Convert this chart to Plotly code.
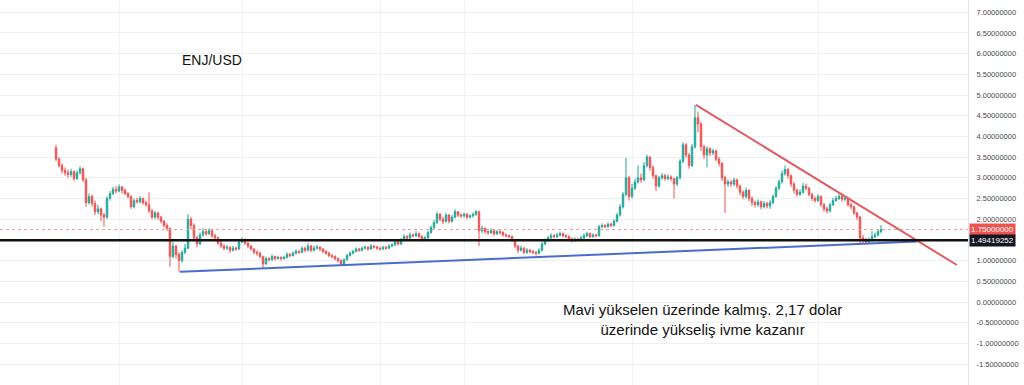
import plotly.graph_objects as go

# ---------------- data ----------------
first_open = 3.72
close = [
    3.45, 3.30, 3.18, 3.12, 3.08, 3.15, 2.98, 3.12, 3.22, 2.95,
    2.40, 2.55, 2.38, 2.18, 2.25, 2.10, 2.05, 2.50, 2.62, 2.72,
    2.68, 2.78, 2.70, 2.62, 2.55, 2.30, 2.45, 2.42, 2.50, 2.40,
    2.35, 2.20, 2.05, 2.15, 2.05, 1.95, 1.85, 1.78, 1.10, 1.35,
    1.15, 1.00, 1.20, 1.30, 2.00, 1.85, 1.55, 1.40, 1.62, 1.70,
    1.65, 1.72, 1.60, 1.55, 1.42, 1.35, 1.30, 1.32, 1.25, 1.30,
    1.28, 1.45, 1.50, 1.42, 1.35, 1.28, 1.20, 1.18, 1.10, 0.92,
    1.05, 1.02, 1.10, 1.05, 1.08, 1.05, 1.08, 1.15, 1.12, 1.18,
    1.22, 1.20, 1.30, 1.25, 1.35, 1.25, 1.30, 1.32, 1.28, 1.22,
    1.18, 1.12, 1.10, 1.05, 1.00, 0.92, 1.02, 1.12, 1.18, 1.22,
    1.28, 1.25, 1.30, 1.32, 1.28, 1.35, 1.33, 1.30, 1.28, 1.32,
    1.30, 1.35, 1.38, 1.45, 1.40, 1.50, 1.58, 1.55, 1.62, 1.60,
    1.65, 1.58, 1.50, 1.55, 1.68, 1.80, 1.92, 2.12, 2.00, 1.95,
    2.10, 1.95, 2.05, 2.18, 2.10, 2.08, 2.12, 2.05, 2.08, 2.12,
    2.18, 1.72, 1.78, 1.70, 1.68, 1.72, 1.65, 1.70, 1.68, 1.62,
    1.60, 1.58, 1.50, 1.35, 1.25, 1.30, 1.20, 1.25, 1.22, 1.20,
    1.18, 1.25, 1.40, 1.48, 1.55, 1.60, 1.58, 1.62, 1.65, 1.60,
    1.58, 1.52, 1.48, 1.52, 1.50, 1.55, 1.60, 1.65, 1.58, 1.62,
    1.60, 1.82, 1.85, 1.82, 1.88, 1.85, 1.95, 2.10, 2.30, 2.60,
    3.00, 2.55, 2.75, 2.90, 3.00, 2.95, 3.30, 3.50, 3.25, 3.05,
    2.80, 3.00, 3.05, 2.98, 3.02, 2.98, 2.85, 3.00, 3.40, 3.80,
    3.55, 3.30, 3.75, 4.45, 4.30, 3.75, 3.55, 3.70, 3.60, 3.65,
    3.45, 3.35, 3.00, 2.85, 2.90, 2.85, 2.95, 2.80, 2.65, 2.55,
    2.70, 2.50, 2.40, 2.35, 2.42, 2.30, 2.38, 2.32, 2.40, 2.55,
    2.75, 2.90, 3.10, 3.20, 3.05, 2.85, 2.70, 2.60, 2.65, 2.80,
    2.75, 2.60, 2.50, 2.45, 2.55, 2.35, 2.25, 2.20, 2.35, 2.45,
    2.50, 2.55, 2.48, 2.50, 2.35, 2.30, 2.15, 2.05, 1.55, 1.50,
    1.45, 1.50, 1.58, 1.62, 1.70, 1.75,
]
high = [
    3.80, 3.50, 3.35, 3.25, 3.20, 3.22, 3.18, 3.18, 3.28, 3.25,
    3.00, 2.62, 2.60, 2.45, 2.35, 2.28, 2.15, 2.55, 2.68, 2.78,
    2.80, 2.84, 2.80, 2.74, 2.66, 2.58, 2.50, 2.52, 2.56, 2.52,
    2.45, 2.65, 2.25, 2.20, 2.18, 2.08, 1.98, 1.90, 1.80, 1.45,
    1.38, 1.20, 1.25, 1.40, 2.12, 2.05, 1.90, 1.60, 1.68, 1.78,
    1.75, 1.78, 1.74, 1.65, 1.58, 1.48, 1.40, 1.38, 1.35, 1.36,
    1.34, 1.50, 1.56, 1.54, 1.45, 1.38, 1.30, 1.25, 1.22, 1.12,
    1.10, 1.08, 1.15, 1.12, 1.12, 1.10, 1.12, 1.20, 1.18, 1.22,
    1.28, 1.26, 1.34, 1.33, 1.42, 1.38, 1.36, 1.38, 1.35, 1.30,
    1.26, 1.22, 1.16, 1.13, 1.08, 1.03, 1.06, 1.16, 1.22, 1.26,
    1.32, 1.31, 1.34, 1.37, 1.35, 1.40, 1.38, 1.36, 1.33, 1.36,
    1.35, 1.40, 1.42, 1.50, 1.48, 1.55, 1.64, 1.62, 1.68, 1.66,
    1.72, 1.68, 1.62, 1.60, 1.72, 1.85, 1.98, 2.18, 2.15, 2.05,
    2.15, 2.12, 2.10, 2.24, 2.20, 2.14, 2.16, 2.15, 2.12, 2.16,
    2.22, 2.20, 1.84, 1.80, 1.74, 1.78, 1.75, 1.74, 1.73, 1.71,
    1.66, 1.63, 1.61, 1.52, 1.38, 1.36, 1.33, 1.30, 1.28, 1.25,
    1.23, 1.30, 1.45, 1.53, 1.60, 1.66, 1.64, 1.67, 1.70, 1.68,
    1.64, 1.61, 1.56, 1.56, 1.55, 1.60, 1.66, 1.70, 1.68, 1.66,
    1.65, 1.86, 1.90, 1.88, 1.92, 1.91, 2.00, 2.15, 2.36, 2.66,
    3.48, 3.05, 2.85, 2.98, 3.30, 3.10, 3.38, 3.56, 3.52, 3.30,
    3.08, 3.05, 3.12, 3.10, 3.08, 3.06, 3.00, 3.05, 3.45, 3.86,
    3.84, 3.60, 3.82, 4.76, 4.60, 4.35, 3.80, 3.76, 3.74, 3.70,
    3.68, 3.50, 3.38, 3.05, 2.96, 2.95, 3.00, 2.98, 2.84, 2.70,
    2.76, 2.72, 2.55, 2.45, 2.48, 2.45, 2.44, 2.42, 2.46, 2.60,
    2.80, 2.96, 3.18, 3.30, 3.24, 3.08, 2.90, 2.74, 2.72, 2.88,
    2.86, 2.78, 2.64, 2.55, 2.60, 2.58, 2.40, 2.30, 2.40, 2.52,
    2.56, 2.62, 2.58, 2.55, 2.53, 2.40, 2.33, 2.18, 2.08, 1.62,
    1.55, 1.56, 1.72, 1.68, 1.76, 1.86,
]
low = [
    3.40, 3.25, 3.10, 3.05, 3.00, 3.02, 2.92, 2.95, 3.08, 2.90,
    2.30, 2.35, 2.30, 2.10, 2.12, 1.95, 1.82, 2.00, 2.45, 2.58,
    2.62, 2.65, 2.62, 2.58, 2.50, 2.25, 2.26, 2.38, 2.38, 2.35,
    2.30, 2.15, 2.00, 2.00, 1.98, 1.90, 1.80, 1.72, 0.85, 1.05,
    1.05, 0.73, 0.95, 1.15, 1.28, 1.75, 1.50, 1.32, 1.38, 1.58,
    1.60, 1.62, 1.55, 1.50, 1.38, 1.30, 1.25, 1.26, 1.18, 1.22,
    1.24, 1.26, 1.42, 1.38, 1.30, 1.24, 1.15, 1.12, 1.05, 0.82,
    0.90, 0.98, 1.00, 1.00, 1.02, 1.00, 1.02, 1.05, 1.08, 1.10,
    1.15, 1.16, 1.18, 1.20, 1.22, 1.20, 1.22, 1.27, 1.22, 1.18,
    1.14, 1.08, 1.05, 1.00, 0.95, 0.88, 0.90, 1.00, 1.10, 1.15,
    1.20, 1.21, 1.22, 1.27, 1.24, 1.26, 1.29, 1.26, 1.24, 1.25,
    1.26, 1.28, 1.32, 1.35, 1.36, 1.38, 1.47, 1.50, 1.52, 1.56,
    1.57, 1.54, 1.46, 1.47, 1.53, 1.65, 1.76, 1.88, 1.95, 1.88,
    1.92, 1.90, 1.92, 2.02, 2.05, 2.03, 2.04, 2.00, 2.02, 2.04,
    2.08, 1.35, 1.66, 1.65, 1.62, 1.64, 1.60, 1.62, 1.63, 1.58,
    1.56, 1.54, 1.45, 1.30, 1.18, 1.22, 1.15, 1.16, 1.17, 1.15,
    1.12, 1.15, 1.22, 1.37, 1.45, 1.52, 1.54, 1.55, 1.58, 1.56,
    1.54, 1.48, 1.44, 1.45, 1.46, 1.47, 1.52, 1.57, 1.54, 1.55,
    1.56, 1.58, 1.78, 1.78, 1.79, 1.81, 1.82, 1.92, 2.06, 2.26,
    2.55, 2.45, 2.50, 2.70, 2.86, 2.88, 2.92, 3.25, 3.18, 2.98,
    2.68, 2.76, 2.95, 2.93, 2.94, 2.92, 2.50, 2.80, 2.96, 3.35,
    3.48, 3.22, 3.26, 3.70, 4.10, 3.65, 3.45, 3.25, 3.52, 3.55,
    3.40, 3.28, 2.92, 2.15, 2.78, 2.78, 2.80, 2.74, 2.58, 2.48,
    2.50, 2.44, 2.32, 2.28, 2.30, 2.24, 2.26, 2.26, 2.25, 2.36,
    2.52, 2.70, 2.86, 3.05, 2.98, 2.78, 2.62, 2.55, 2.56, 2.62,
    2.70, 2.55, 2.44, 2.40, 2.42, 2.30, 2.18, 2.14, 2.16, 2.32,
    2.42, 2.46, 2.42, 2.44, 2.30, 2.24, 2.10, 1.98, 1.40, 1.42,
    1.38, 1.42, 1.46, 1.54, 1.58, 1.66,
]
open_ = [first_open] + close[:-1]
idx = list(range(len(close)))

last_price = 1.75
support_level = 1.49419252

# trendlines (candle-index, price)
red_line_x = [213.3, 300.3]
red_line_y = [4.76, 0.894]
blue_line_x = [41.3, 287.0]
blue_line_y = [0.73, 1.46]

y_ticks = [-2.0, -1.5, -1.0, -0.5, 0.0, 0.5, 1.0, 1.5, 2.0, 2.5, 3.0,
           3.5, 4.0, 4.5, 5.0, 5.5, 6.0, 6.5, 7.0]
# the 1.5 label sits under the price badges, as in the reference
y_tick_text = ["" if v == 1.5 else "%.8f" % v for v in y_ticks]

UP = "#26a69a"
DOWN = "#ef5350"
FONT = "Liberation Sans, Arial, sans-serif"

fig = go.Figure()
fig.add_trace(go.Candlestick(
    x=idx, open=open_, high=high, low=low, close=close,
    increasing=dict(line=dict(color=UP, width=1), fillcolor=UP),
    decreasing=dict(line=dict(color=DOWN, width=1), fillcolor=DOWN),
    whiskerwidth=0, showlegend=False, hoverinfo="skip",
))
fig.add_trace(go.Scatter(x=blue_line_x, y=blue_line_y, mode="lines",
                         line=dict(color="#4a6ccf", width=2), showlegend=False,
                         hoverinfo="skip"))
fig.add_trace(go.Scatter(x=red_line_x, y=red_line_y, mode="lines",
                         line=dict(color="#e05c62", width=2), showlegend=False,
                         hoverinfo="skip"))

# horizontal levels
fig.add_shape(type="line", xref="paper", x0=0, x1=1, yref="y",
              y0=last_price, y1=last_price,
              line=dict(color="#ef9a9a", width=1, dash="dot"))
fig.add_shape(type="line", xref="paper", x0=0, x1=1, yref="y",
              y0=support_level, y1=support_level,
              line=dict(color="#111111", width=2.5))

# price badges on the axis
fig.add_annotation(xref="paper", x=1.0, xanchor="left", yref="y", y=last_price,
                   yanchor="middle",
                   text="%.8f" % last_price, showarrow=False,
                   font=dict(family=FONT, size=8, color="white"),
                   bgcolor=DOWN, borderpad=1, xshift=1)
fig.add_annotation(xref="paper", x=1.0, xanchor="left", yref="y", y=support_level,
                   yanchor="middle",
                   text="%.8f" % support_level, showarrow=False,
                   font=dict(family=FONT, size=8, color="white"),
                   bgcolor="#131722", borderpad=1, xshift=1)

# texts
fig.add_annotation(xref="paper", yref="paper", x=212 / 968, y=1 - 60 / 385,
                   xanchor="center", yanchor="middle",
                   text="ENJ/USD", showarrow=False,
                   font=dict(family=FONT, size=14, color="#111111"))
fig.add_annotation(xref="paper", yref="paper", x=702 / 968, y=1 - 319 / 385,
                   xanchor="center", yanchor="middle",
                   text="Mavi yükselen üzerinde kalmış. 2,17 dolar<br>üzerinde yükseliş ivme kazanır",
                   showarrow=False,
                   font=dict(family=FONT, size=15, color="#111111"))

fig.update_layout(
    width=1024, height=385,
    margin=dict(l=0, r=56, t=0, b=0),
    paper_bgcolor="white", plot_bgcolor="white",
    xaxis=dict(range=[-18.67, 304], showticklabels=False, rangeslider=dict(visible=False),
               showgrid=True, gridcolor="#f3f3f3", tickvals=[21, 62, 108, 136, 192, 254],
               zeroline=False, ticks=""),
    yaxis=dict(side="right", range=[-2.005, 7.295], tickvals=y_ticks, ticktext=y_tick_text,
               showgrid=True, gridcolor="#f0f0f0", zeroline=False,
               showline=True, linecolor="#e0e3eb", linewidth=1, ticks="",
               ticklabelstandoff=6,
               tickfont=dict(family=FONT, size=7.5, color="#4a4a4a")),
)

fig.write_html("out.html")
